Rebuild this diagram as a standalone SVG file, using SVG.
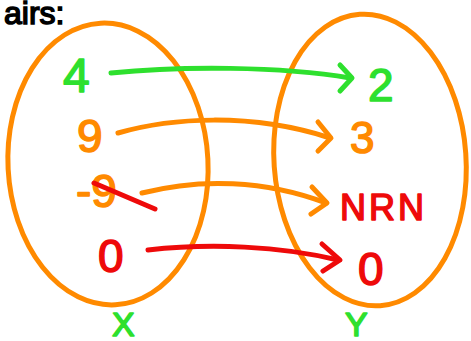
<svg xmlns="http://www.w3.org/2000/svg" width="471" height="341" viewBox="0 0 471 341">
<style>
.set{fill:none;stroke:#FF8A00;stroke-width:5;stroke-linecap:round}
.con{fill:none;stroke-width:5;stroke-linecap:round;stroke-linejoin:round}
.t{font-family:"Liberation Sans",Arial,sans-serif;stroke-width:1.5;stroke-linejoin:round}
.g{fill:#2EE02E;stroke:#2EE02E}
.o{fill:#FF8A00;stroke:#FF8A00}
.r{fill:#EE0A0A;stroke:#EE0A0A}
</style>
<rect width="471" height="341" fill="#fff"/>
<text x="4" y="24" font-family="Liberation Sans, Arial, sans-serif" font-size="32" fill="#000" stroke="#000" stroke-width="1.5">airs:</text>
<g id="setX">
<ellipse class="set" cx="108" cy="164" rx="100" ry="141" transform="rotate(-3 108 164)"/>
<text class="t g" x="112" y="336" font-size="34">X</text>
</g>
<g id="setY">
<ellipse class="set" cx="370" cy="160" rx="96" ry="146" transform="rotate(-4 370 160)"/>
<text class="t g" x="345" y="336" font-size="34">Y</text>
</g>
<g id="x4"><text class="t g" x="63" y="92" font-size="48">4</text></g>
<g id="x9"><text class="t o" x="77" y="152" font-size="46">9</text></g>
<g id="xm9"><text class="t o" x="76" y="207" font-size="46">-9</text>
<path class="con" stroke="#EE0A0A" d="M94,183 L155,209"/></g>
<g id="x0"><text class="t r" x="98" y="272" font-size="46">0</text></g>
<g id="y2"><text class="t g" x="368" y="101" font-size="46">2</text></g>
<g id="y3"><text class="t o" x="350" y="153" font-size="44">3</text></g>
<g id="yNRN"><text class="t r" x="340" y="220" font-size="36" letter-spacing="3">NRN</text></g>
<g id="y0"><text class="t r" x="358" y="285" font-size="46">0</text></g>
<g id="connectors">
<path class="con" stroke="#2EE02E" d="M111,73 C180,66 280,66 350,78"/>
<path class="con" stroke="#2EE02E" d="M340,65 L352,78 L340,91"/>
<path class="con" stroke="#FF8A00" d="M118,133 C170,118 250,112 330,138"/>
<path class="con" stroke="#FF8A00" d="M318,122 L331,138 L318,151"/>
<path class="con" stroke="#FF8A00" d="M142,193 C200,178 265,180 326,203"/>
<path class="con" stroke="#FF8A00" d="M312,187 L327,203 L311,214"/>
<path class="con" stroke="#EE0A0A" d="M148,250 C210,243 280,246 338,260"/>
<path class="con" stroke="#EE0A0A" d="M322,244 L340,260 L323,271"/>
</g>
</svg>
